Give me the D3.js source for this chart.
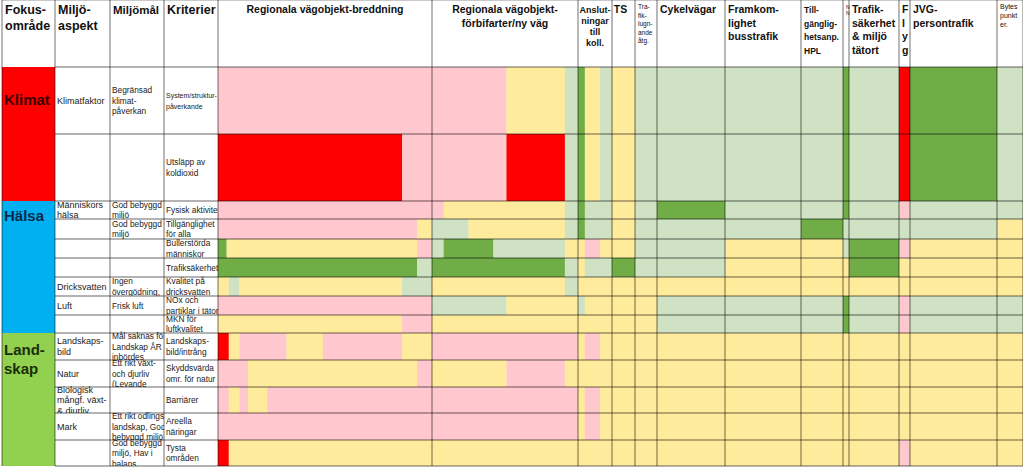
<!DOCTYPE html>
<meta charset="utf-8">
<head>
<script src="https://cdn.jsdelivr.net/npm/d3@7"></script>
<style>
  body { margin: 0; background: #fff; }
  text { font-family: "Liberation Sans", Arial, sans-serif; }
</style>
</head>
<body>
<script>
// Column headers (data columns)
const headers = [
  ["Regionala vägobjekt-breddning"],
  ["Regionala vägobjekt-", "förbifarter/ny väg"],
  ["Anslut-", "ningar", "till", "koll."],
  ["TS"],
  ["Tra-", "fik-", "lugn-", "ande", "åtg."],
  ["Cykelvägar"],
  ["Framkom-", "lighet", "busstrafik"],
  ["Till-", "gänglig-", "hetsanp.", "HPL"],
  ["N", "N"],
  ["Trafik-", "säkerhet", "& miljö", "tätort"],
  ["F", "l", "y", "g"],
  ["JVG-", "persontrafik"],
  ["Bytes", "punkt", "er."]
];
const leftHeaders = [["Fokus-", "område"], ["Miljö-", "aspekt"], ["Miljömål"], ["Kriterier"]];

const focus = [
  {name: ["Klimat"], rows: 2, color: "#ff0000", text: "#3a0000"},
  {name: ["Hälsa"], rows: 7, color: "#00b0f0", text: "#0b2a4a"},
  {name: ["Land-", "skap"], rows: 5, color: "#92d050", text: "#1a2e0a"}
];

const aspekt = [["Klimatfaktor"], [], ["Människors", "hälsa"], [], [], [], ["Dricksvatten"], ["Luft"], [],
  ["Landskaps-", "bild"], ["Natur"], ["Biologisk", "mångf. växt-", "& djurliv"], ["Mark"], []];
const mal = [["Begränsad", "klimat-", "påverkan"], [], ["God bebyggd", "miljö"], ["God bebyggd", "miljö"], [], [],
  ["Ingen", "övergödning,"], ["Frisk luft"], [], ["Mål saknas för", "Landskap ÅR", "inbördes"],
  ["Ett rikt växt-", "och djurliv", "(Levande"], [], ["Ett rikt odlings-", "landskap, God", "bebyggd miljö"],
  ["God bebyggd", "miljö, Hav i", "balans"]];
const kriterier = [["System/struktur-", "påverkande"], ["Utsläpp av", "koldioxid"], ["Fysisk aktivitet"],
  ["Tillgänglighet", "för alla"], ["Bullerstörda", "människor"], ["Trafiksäkerhet"], ["Kvalitet på", "dricksvatten"],
  ["NOx och", "partiklar i tätort"], ["MKN för", "luftkvalitet"], ["Landskaps-", "bild/intrång"],
  ["Skyddsvärda", "omr. för natur"], ["Barriärer"], ["Areella", "näringar"], ["Tysta", "områden"]];

// Ratings per row, per column: runs "code+end%" (R red, P pink, Y yellow, L light green, G green)
const ratings = [
  ["P", "P51 Y91 L", "G20 Y65 L", "Y", "L", "L", "L", "L", "G", "L", "R", "G", "L"],
  ["R86 P", "P51 R91 L", "G20 Y65 L", "Y", "L", "L", "L", "L", "G", "L", "R", "G", "L"],
  ["P", "P8 Y91 L", "G20 L", "Y", "L", "G", "L", "L", "G", "L", "P", "L", "L"],
  ["P93 Y", "L25 Y91 L", "G20 L", "Y", "L", "L", "L", "G", "L", "L", "L", "L", "Y"],
  ["G4 Y93 P", "L8 G42 L91 Y", "Y20 P65 Y", "Y", "L", "L", "Y", "Y", "L", "G", "P", "Y", "Y"],
  ["G93 L", "G91 L", "Y20 L", "G", "L", "L", "Y", "Y", "Y", "G", "Y", "Y", "Y"],
  ["Y5 L10 Y86 L", "Y91 L", "Y", "Y", "Y", "Y", "Y", "Y", "Y", "Y", "Y", "Y", "Y"],
  ["P", "L51 Y", "L20 Y", "Y", "Y", "L", "L", "L", "G", "L", "P", "L", "L"],
  ["Y86 P", "Y", "Y", "Y", "Y", "L", "L", "L", "G", "L", "P", "L", "L"],
  ["R5 Y10 P32 Y49 P86 Y", "P", "Y20 P65 Y", "Y", "Y", "Y", "Y", "Y", "Y", "Y", "Y", "Y", "Y"],
  ["P14 Y93 P", "Y51 P91 Y", "Y", "Y", "Y", "Y", "Y", "Y", "Y", "Y", "Y", "Y", "Y"],
  ["P5 Y10 P14 Y23 P", "P", "Y20 P65 Y", "Y", "Y", "Y", "Y", "Y", "Y", "Y", "Y", "Y", "Y"],
  ["P", "P", "Y20 P65 Y", "Y", "Y", "Y", "Y", "Y", "Y", "Y", "Y", "Y", "Y"],
  ["R5 Y", "Y", "Y", "Y", "Y", "Y", "Y", "Y", "Y", "Y", "P", "Y", "Y"]
];
const palette = {R: "#ff0000", P: "#ffc7ce", Y: "#ffeb9c", L: "#cfe2c3", G: "#70ad47"};

// Layout
const width = 1023, height = 467;
const leftEdges = [2, 55, 110, 164, 218];
const colEdges = [218, 432, 578, 612, 635, 657, 725, 801, 843, 849, 899, 910, 997, 1023];
const rowEdges = [67, 134, 201, 219, 239, 258, 277, 296, 315, 333, 360, 387, 413, 440, 466];

const svg = d3.select("body").append("svg").attr("width", width).attr("height", height);
const defs = svg.append("defs");

function parseRuns(s) {
  let start = 0;
  return s.split(" ").map(t => {
    const end = t.length > 1 ? +t.slice(1) : 100;
    const r = {code: t[0], start, end};
    start = end;
    return r;
  });
}

// Rating cells
const segs = [];
ratings.forEach((row, ri) => row.forEach((cell, ci) => {
  const x = d3.scaleLinear().domain([0, 100]).range([colEdges[ci], colEdges[ci + 1]]);
  parseRuns(cell).forEach(r => segs.push({ri, x0: x(r.start), x1: x(r.end), code: r.code}));
}));
svg.append("g").selectAll("rect").data(segs).join("rect")
  .attr("x", d => d.x0).attr("width", d => d.x1 - d.x0 + 0.3)
  .attr("y", d => rowEdges[d.ri]).attr("height", d => rowEdges[d.ri + 1] - rowEdges[d.ri])
  .attr("fill", d => palette[d.code]);

// Focus areas
let acc = 0;
const fg = svg.append("g");
const labelY = [105, 221, 355];
focus.forEach((f, k) => {
  const y0 = rowEdges[acc], y1 = rowEdges[acc + f.rows];
  acc += f.rows;
  fg.append("rect").attr("x", leftEdges[0]).attr("y", y0).attr("width", leftEdges[1] - leftEdges[0])
    .attr("height", y1 - y0).attr("fill", f.color);
  f.name.forEach((l, i) => fg.append("text").attr("x", 4).attr("y", labelY[k] + i * 19)
    .attr("font-size", 15).attr("font-weight", "bold").attr("fill", f.text).text(l));
});

// Left text columns (clipped to their cells)
const lt = svg.append("g").attr("fill", "#222");
[aspekt, mal, kriterier].forEach((col, k) => {
  const fs = k === 0 ? 9 : 8.3;
  col.forEach((lines, ri) => {
    const y0 = rowEdges[ri], y1 = rowEdges[ri + 1];
    const id = `clip-${k}-${ri}`;
    defs.append("clipPath").attr("id", id).append("rect")
      .attr("x", leftEdges[k + 1]).attr("y", y0 - 3).attr("width", leftEdges[k + 2] - leftEdges[k + 1])
      .attr("height", y1 - y0 + 3);
    const g = lt.append("g").attr("clip-path", `url(#${id})`);
    const n = lines.length, lh = 10.5;
    const top = (y0 + y1) / 2 - (n - 1) * lh / 2 + 3;
    lines.forEach((l, i) => g.append("text").attr("x", leftEdges[k + 1] + 2).attr("y", top + i * lh)
      .attr("font-size", k === 2 && lines[0].startsWith("System") ? 7 : fs).text(l));
  });
});

// Grid lines
const grid = svg.append("g").attr("stroke", "#000").attr("stroke-width", 0.8);
rowEdges.forEach(y => grid.append("line").attr("x1", leftEdges[1]).attr("x2", width).attr("y1", y).attr("y2", y)
  .attr("stroke-opacity", 0.75));
grid.append("line").attr("x1", leftEdges[0]).attr("x2", width).attr("y1", 0.5).attr("y2", 0.5).attr("stroke", "#bbb");
leftEdges.concat(colEdges.slice(1)).forEach(x => grid.append("line").attr("x1", x).attr("x2", x)
  .attr("y1", 0).attr("y2", rowEdges[rowEdges.length - 1]).attr("stroke-opacity", 0.7));

// Headers
const hg = svg.append("g").attr("fill", "#111").attr("font-weight", "bold");
leftHeaders.forEach((lines, k) => lines.forEach((l, i) =>
  hg.append("text").attr("x", leftEdges[k] + 3).attr("y", 14 + i * 16)
    .attr("font-size", k === 2 ? 11.5 : 12.5).text(l)));
const small = {4: 6.5, 8: 5, 12: 7, 7: 8.5, 2: 9};
const centered = [0, 1, 2, 3];
headers.forEach((lines, ci) => {
  const fs = small[ci] || 10.5;
  const lh = ci === 4 ? 8.5 : ci === 12 ? 9 : ci === 8 ? 6 : ci === 2 ? 11 : 13.5;
  const c = centered.includes(ci);
  lines.forEach((l, i) => hg.append("text")
    .attr("x", c ? (colEdges[ci] + colEdges[ci + 1]) / 2 + (ci === 3 ? -3 : 0) : colEdges[ci] + 3)
    .attr("y", (ci === 4 || ci === 8 || ci === 12 ? 9 : 13) + i * lh)
    .attr("text-anchor", c ? "middle" : "start")
    .attr("font-weight", ci === 4 || ci === 8 || ci === 12 ? "normal" : "bold")
    .attr("font-size", fs).text(l));
});
</script>
</body>
</html>
